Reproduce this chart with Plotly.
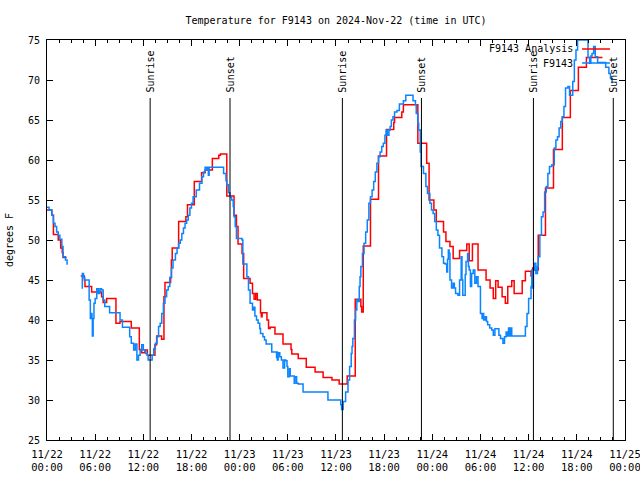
import pandas as pd
import plotly.graph_objects as go

BASE = pd.Timestamp("2024-11-22 00:00")

# Series names
series_names = ["F9143 Analysis", "F9143"]

# Analysis (red) - hours since 2024-11-22 00:00 UTC, temperature degF (None = gap)
analysis_hours = [0.0, 0.6, 0.8, 1.4, 1.7, 1.9, 2.0, 2.45, 2.5,
                  4.2, 4.65, 4.73, 5.56, 6.81, 7.0, 7.43, 8.59, 9.09, 10.5, 11.5, 11.8, 12.2, 12.5,
                  13.45, 13.66, 14.28, 14.57, 14.7, 15.4, 15.5, 15.6, 16.4, 17.3, 17.5, 18.35,
                  19.26, 19.7, 20.6, 21.4, 21.6, 22.4, 23.3, 23.6, 23.8, 24.3, 24.5, 25.3,
                  25.6, 25.8, 26.0, 26.2, 26.6, 26.7, 26.8, 27.4, 27.6, 27.8, 28.4, 29.4, 30.4,
                  30.5, 31.3, 32.3, 33.4, 34.4, 35.5, 36.4, 37.4, 38.4, 39.1, 39.2, 39.4, 40.3,
                  41.3, 42.3, 43.2, 43.3, 44.2, 44.4, 46.2, 47.3, 47.6, 48.2, 48.5, 49.4, 49.7,
                  50.2, 50.6, 51.4, 52.3, 52.6, 53.0, 53.7, 54.7, 55.2, 55.6, 55.9, 56.2, 56.7,
                  57.1, 57.4, 57.9, 58.2, 59.2, 59.6, 60.3, 60.5, 60.6, 61.2, 62.1, 63.1, 64.2,
                  65.2, 66.2, 67.2, 69.2]
analysis_temps = [53.75, 53.1, 50.7, 50.0, 49.0, 48.4, 47.8, 47.8, None,
                  45.5, 45.0, 44.2, 43.5, 42.9, 42.2, 42.7, 39.6, 39.8, 39.0, 36.3, 35.9, 36.25, 35.6,
                  36.9, 38.0, 37.6, 42.9, 44.7, 45.3, 47.5, 49.0, 52.3, 52.9, 54.4, 57.3,
                  58.4, 58.75, 60.2, 60.6, 60.75, 55.5, 53.1, 51.7, 49.5, 48.3, 45.2, 44.6,
                  43.3, 42.6, 43.3, 42.5, 40.9, 40.4, 40.9, 40.0, 38.95, 39.1, 38.25, 37.0, 36.3,
                  35.75, 35.2, 34.1, 33.5, 32.8, 32.5, 32.0, 33.0, 42.6, 41.7, 41.0, 49.25, 55.1,
                  60.5, 63.8, 64.7, 65.3, 66.0, 66.9, 62.1, 59.6, 55.0, 53.75, 52.3, 51.0, 49.8,
                  49.2, 47.7, 48.7, 49.5, 47.4, 49.5, 46.25, 45.0, 44.0, 42.7, 44.9, 44.1, 42.9,
                  42.1, 44.2, 44.9, 43.3, 44.9, 46.1, 45.5, 46.5, 46.25, 50.6, 56.5, 61.3, 65.3,
                  68.7, 71.6, 72.8, 72.8]

# Observations (blue)
obs_hours = [0.0, 0.25, 0.6, 0.8, 1.0, 1.2, 1.4, 1.6, 1.85, 2.0, 2.3, 2.5, 2.55,
             4.3, 4.4, 4.55, 4.7, 5.2, 5.25, 5.4, 5.5, 5.6, 5.65, 5.75, 5.85, 6.0, 6.2, 6.4, 6.6,
             6.8, 7.0, 7.2, 7.8, 9.1, 9.4, 10.3, 10.5, 10.8, 11.0, 11.2, 11.4, 11.6, 11.8, 12.0,
             12.3, 12.5, 12.6, 13.1, 13.3, 13.5, 13.7, 13.9, 14.1, 14.3, 14.5, 14.7, 14.9, 15.1,
             15.3, 15.5, 15.7, 16.0, 16.2, 16.4, 16.6, 16.8, 17.0, 17.2, 17.4, 17.6, 17.8, 18.0,
             18.2, 18.6, 19.0, 19.3, 19.5, 19.7, 19.9, 20.0, 20.1, 20.2, 21.9, 22.0, 22.3, 22.4,
             22.6, 22.8, 23.0, 23.2, 23.3, 23.45, 23.6, 24.3, 24.4, 24.9, 25.1, 25.3, 25.6, 25.75,
             25.9, 26.1, 26.3, 26.5, 26.6, 26.9, 27.1, 27.3, 28.0, 28.6, 28.65, 28.7, 28.8, 29.0,
             29.2, 29.4, 29.6, 29.75, 29.9, 30.0, 30.2, 30.3, 30.8, 30.9, 31.1, 31.3, 31.9, 35.0,
             36.6, 36.7, 36.9, 37.2, 37.5, 37.7, 37.9, 38.0, 38.1, 38.3, 38.45, 38.6, 38.75, 38.9,
             39.0, 39.1, 39.3, 39.5, 39.7, 39.9, 40.1, 40.3, 40.5, 40.7, 40.9, 41.1, 41.3, 41.5,
             41.7, 41.9, 42.1, 42.25, 42.4, 42.6, 42.75, 42.9, 43.1, 43.3, 43.6, 43.9, 44.4, 44.7,
             45.5, 45.6, 45.9, 46.0, 46.2, 46.3, 46.5, 46.6, 46.9, 47.2, 47.4, 47.7, 47.9, 48.1,
             48.3, 48.5, 48.7, 48.9, 49.2, 49.4, 49.6, 49.8, 49.9, 50.0, 50.1, 50.2, 50.4, 50.6,
             50.75, 50.9, 51.2, 51.4, 51.6, 51.7, 51.8, 52.0, 52.1, 52.2, 52.4, 52.5, 52.6, 52.75,
             52.9, 53.1, 53.3, 53.5, 53.7, 54.0, 54.2, 54.3, 54.4, 54.6, 54.75, 54.9, 55.15, 55.4,
             55.6, 55.8, 56.1, 56.3, 56.5, 56.8, 57.0, 57.2, 57.35, 57.5, 57.65, 57.75, 57.9, 59.3,
             59.6, 59.8, 60.0, 60.3, 60.4, 60.5, 60.6, 60.7, 60.9, 61.1, 61.2, 61.4, 61.6, 61.8,
             62.0, 62.2, 62.4, 62.6, 62.9, 63.2, 63.4, 63.6, 63.8, 64.0, 64.2, 64.4, 64.6, 64.9,
             65.1, 65.3, 65.5, 65.7, 65.9, 66.1, 66.3, 66.45, 67.3, 67.4, 67.6, 67.75, 67.9, 68.1,
             68.3, 68.6, 69.3, 69.6, 70.0, 70.2, 70.4]
obs_temps = [54.1, 53.75, 53.1, 52.1, 51.7, 51.0, 50.6, 50.1, 49.2, 47.9, 47.5, 46.9, None,
             44.0, 45.8, 45.3, 45.0, 45.0, 42.5, 40.2, 40.8, 40.2, 38.0, 40.2, 42.1, 42.7, 43.9, 43.3, 43.9,
             43.75, 42.5, 41.7, 40.9, 40.0, 39.1, 37.9, 37.1, 36.25, 37.0, 35.0, 35.6, 36.25, 36.9, 36.25,
             35.8, 35.6, 35.0, 35.6, 36.4, 37.1, 37.9, 39.2, 39.6, 40.8, 42.1, 42.9, 43.75, 44.2,
             45.3, 46.5, 47.5, 48.3, 49.0, 49.6, 50.0, 50.8, 51.5, 52.1, 52.5, 53.1, 54.0, 54.6,
             55.4, 56.25, 57.1, 57.9, 58.5, 59.1, 58.8, 59.1, 58.1, 59.1, 59.1, 58.3, 57.4, 56.9,
             55.9, 55.4, 55.0, 54.2, 52.9, 51.7, 50.2, 50.0, 47.0, 45.4, 43.75, 42.1, 41.25, 41.6,
             40.5, 40.0, 39.6, 38.95, 38.3, 37.9, 37.5, 37.0, 36.0, 35.3, 36.0, 35.0, 35.9, 35.4,
             35.0, 34.0, 35.0, 34.9, 34.2, 32.9, 33.9, 33.0, 32.1, 32.9, 32.1, 32.0, 31.0, 30.0,
             29.4, 28.8, 29.8, 31.0, 32.5, 34.2, 35.8, 36.7, 37.7, 40.0, 41.25, 42.5, 42.3, 44.2,
             45.4, 46.7, 48.3, 49.6, 51.0, 52.5, 54.6, 55.4, 56.25, 57.3, 58.5, 59.6, 60.4, 61.0,
             61.7, 62.1, 63.1, 63.75, 63.1, 63.75, 64.2, 65.0, 65.4, 66.0, 66.2, 67.0, 67.4, 68.1,
             68.1, 67.4, 66.9, 65.8, 64.6, 63.75, 61.0, 59.2, 58.3, 56.7, 55.8, 54.6, 53.75, 53.3,
             52.3, 51.25, 50.6, 49.0, 47.9, 47.1, 47.0, 46.0, 47.6, 48.75, 48.3, 45.0, 44.0, 44.6,
             44.0, 43.3, 43.1, 45.0, 47.9, 45.0, 43.1, 43.1, 45.7, 47.3, 48.3, 46.7, 46.25, 44.2,
             45.8, 46.25, 44.6, 45.4, 44.2, 40.8, 40.2, 40.8, 40.0, 40.4, 39.8, 39.4, 39.0, 38.75,
             38.1, 38.9, 38.9, 38.1, 37.7, 37.1, 37.9, 38.5, 38.0, 39.0, 38.0, 39.0, 38.0, 38.0,
             39.2, 40.8, 42.7, 44.2, 46.25, 44.0, 46.25, 47.1, 45.8, 46.7, 47.9, 50.6, 52.9, 53.5,
             56.0, 56.7, 58.3, 59.2, 59.4, 61.5, 62.5, 62.9, 64.0, 64.8, 65.4, 66.7, 69.0, 69.2,
             68.1, 68.1, 69.8, 72.5, 73.75, 75.0, 76.5, 75.0, 75.0, 72.8, 72.1, 73.0, 73.3, 74.2,
             72.9, 72.2, 72.2, 71.6, 70.8, 70.2, 69.6]

# Sun events (hours since 2024-11-22 00:00 UTC)
event_hours = [12.85, 22.8, 36.8, 46.65, 60.6, 70.55]
event_labels = ["Sunrise", "Sunset", "Sunrise", "Sunset", "Sunrise", "Sunset"]

title_text = "Temperature for F9143 on 2024-Nov-22 (time in UTC)"
y_label = "degrees F"


def to_time(hours):
    return [BASE + pd.Timedelta(hours=h) for h in hours]


FONT = "DejaVu Sans Mono"
RED = "#ff0000"
BLUE = "#0a84ff"

fig = go.Figure()
fig.add_trace(go.Scatter(x=to_time(analysis_hours), y=analysis_temps, mode="lines",
                         name=series_names[0], line=dict(color=RED, width=1.5, shape="hv"),
                         connectgaps=False, showlegend=False))
fig.add_trace(go.Scatter(x=to_time(obs_hours), y=obs_temps, mode="lines",
                         name=series_names[1], line=dict(color=BLUE, width=1.5, shape="hv"),
                         connectgaps=False, showlegend=False))

shapes = []
annotations = []
for h, lab in zip(event_hours, event_labels):
    t = BASE + pd.Timedelta(hours=h)
    shapes.append(dict(type="line", xref="x", yref="y", x0=t, x1=t, y0=25, y1=67.75,
                       line=dict(color="black", width=1)))
    annotations.append(dict(x=t, y=68.2, xref="x", yref="y", text=lab, textangle=-90,
                            showarrow=False, xanchor="center", yanchor="bottom",
                            font=dict(family=FONT, size=10, color="black")))

# gnuplot-style key (text right-aligned, sample line to the right)
key_rows = [(series_names[0], RED, 0.9775), (series_names[1], BLUE, 0.9425)]
for name, col, yy in key_rows:
    annotations.append(dict(x=0.9135, y=yy, xref="paper", yref="paper", text=name,
                            showarrow=False, xanchor="right", yanchor="middle",
                            font=dict(family=FONT, size=10, color="black")))
    shapes.append(dict(type="line", xref="paper", yref="paper", x0=0.9256, x1=0.974,
                       y0=yy, y1=yy, line=dict(color=col, width=1.5)))

fig.update_layout(
    width=640, height=480,
    margin=dict(l=47, r=15, t=40, b=40),
    paper_bgcolor="white", plot_bgcolor="white",
    font=dict(family=FONT, size=10, color="black"),
    title=dict(text=title_text, x=0.5, xref="paper", y=1 - 20 / 480, yanchor="middle",
               font=dict(family=FONT, size=10, color="black")),
    shapes=shapes, annotations=annotations,
    showlegend=False,
)
fig.update_xaxes(
    type="date", range=[BASE, BASE + pd.Timedelta(hours=72, seconds=30)],
    tick0=BASE, dtick=6 * 3600 * 1000, tickformat="%m/%d<br>%H:%M",
    ticks="inside", ticklen=6, tickcolor="black", showline=True, linecolor="black",
    linewidth=1, mirror="ticks", showgrid=False, zeroline=False,
    ticklabeloverflow="allow", automargin=False, ticklabelstandoff=4,
    minor=dict(dtick=1.5 * 3600 * 1000, ticks="inside", ticklen=3, tickcolor="black", showgrid=False),
    tickfont=dict(family=FONT, size=10.5, color="black"),
)
fig.update_yaxes(
    range=[25, 75], dtick=5, ticks="inside", ticklen=6, tickcolor="black",
    showline=True, linecolor="black", linewidth=1, mirror="ticks",
    showgrid=False, zeroline=False, automargin=False, ticklabelstandoff=4,
    title=dict(text=y_label, standoff=12, font=dict(family=FONT, size=10, color="black")),
    tickfont=dict(family=FONT, size=10, color="black"),
)

fig.write_html("out.html")
